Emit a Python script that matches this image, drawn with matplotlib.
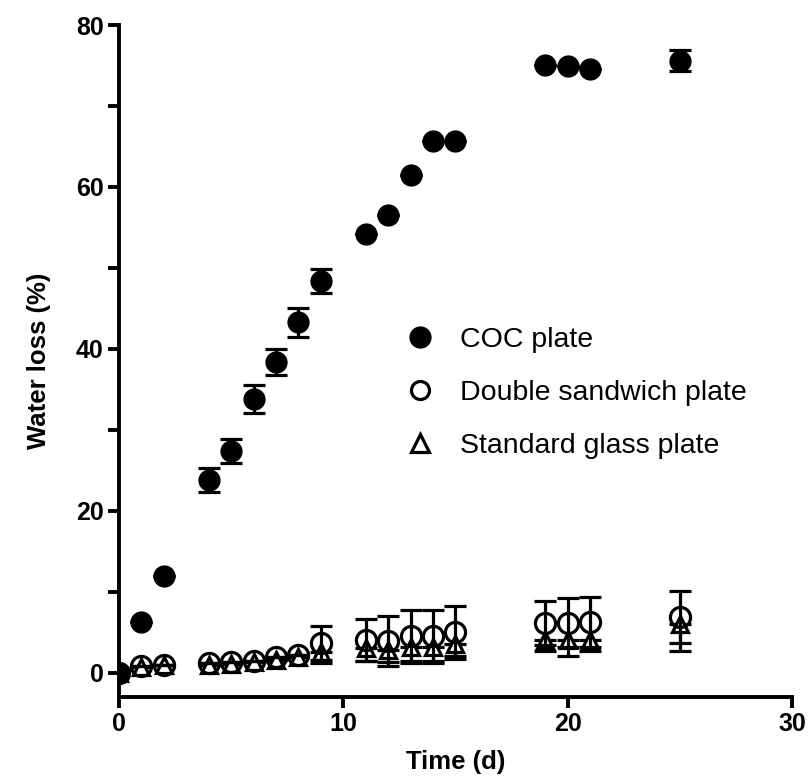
import numpy as np
import matplotlib
matplotlib.use('Agg')
import matplotlib.pyplot as plt
from matplotlib.lines import Line2D
from matplotlib.ticker import MultipleLocator

plt.rcParams['font.family'] = ['Liberation Sans', 'DejaVu Sans']

# time points (days)
days = [0, 1, 2, 4, 5, 6, 7, 8, 9, 11, 12, 13, 14, 15, 19, 20, 21, 25]

# COC plate, mean and SD (0 where the bar hides behind the marker)
coc = [0.0, 6.3, 12.0, 23.8, 27.4, 33.8, 38.4, 43.3, 48.4, 54.2, 56.6, 61.5, 65.7, 65.7, 75.1, 74.9, 74.6, 75.6]
coc_err = [0, 0, 0, 1.5, 1.5, 1.7, 1.6, 1.8, 1.5, 0, 0, 0, 0, 0, 0, 0, 0, 1.3]

# double sandwich plate
dsp = [0.0, 0.8, 1.0, 1.2, 1.3, 1.5, 1.9, 2.2, 3.7, 4.0, 3.9, 4.5, 4.5, 5.0, 6.1, 6.2, 6.3, 6.9]
dsp_err = [0, 0, 0, 0, 0, 0, 0, 0, 2.1, 2.6, 3.1, 3.3, 3.3, 3.3, 2.7, 3.0, 3.1, 3.2]

# standard glass plate
sgp = [0.0, 0.7, 0.9, 1.0, 1.1, 1.3, 1.6, 1.9, 2.6, 3.0, 2.8, 3.2, 3.2, 3.6, 4.0, 4.0, 4.1, 6.0]
sgp_err = [0, 0, 0, 0, 0, 0, 0, 0, 1.4, 1.6, 1.5, 1.8, 1.8, 1.5, 1.3, 1.9, 1.4, 3.3]

labels = ['COC plate', 'Double sandwich plate', 'Standard glass plate']

fig = plt.figure(figsize=(8.09, 7.84), dpi=100)
ax = fig.add_axes([0.147, 0.111, 0.832, 0.857])

lw = 2.3
ebkw = dict(ls='none', ecolor='black', elinewidth=lw, capsize=8, capthick=lw)

# glass plate: only lower error bars visible
ax.errorbar(days, sgp, yerr=[sgp_err, np.zeros(len(sgp_err))], marker='^', ms=11,
            mfc='white', mec='black', mew=lw, zorder=3, **ebkw)
ax.errorbar(days, dsp, yerr=dsp_err, marker='o', ms=14.5, mfc='none', mec='black',
            mew=lw, zorder=4, **ebkw)
ax.errorbar(days, coc, yerr=coc_err, marker='o', ms=15, mfc='black', mec='black',
            zorder=5, **ebkw)

ax.set_xlim(0, 30)
ax.set_ylim(-3, 80)
ax.xaxis.set_major_locator(MultipleLocator(10))
ax.yaxis.set_major_locator(MultipleLocator(20))
ax.yaxis.set_minor_locator(MultipleLocator(10))

for s in ['top', 'right']:
    ax.spines[s].set_visible(False)
for s in ['left', 'bottom']:
    ax.spines[s].set_linewidth(2.8)

ax.tick_params(which='both', direction='out', length=8, width=2.8)
ax.tick_params(axis='both', labelsize=18, pad=3)
for t in ax.get_xticklabels() + ax.get_yticklabels():
    t.set_fontweight('bold')

ax.set_xlabel('Time (d)', fontsize=18.5, fontweight='bold', labelpad=10)
ax.set_ylabel('Water loss (%)', fontsize=18.5, fontweight='bold', labelpad=18)

handles = [
    Line2D([], [], ls='none', marker='o', ms=15, mfc='black', mec='black'),
    Line2D([], [], ls='none', marker='o', ms=13, mfc='white', mec='black', mew=2.3),
    Line2D([], [], ls='none', marker='^', ms=13, mfc='white', mec='black', mew=2.3),
]
ax.legend(handles, labels, loc='center left', bbox_to_anchor=(0.388, 0.452),
          frameon=False, fontsize=20.5, handlelength=1.0, handletextpad=0.9,
          labelspacing=0.95)

fig.savefig('out.png', dpi=100)
